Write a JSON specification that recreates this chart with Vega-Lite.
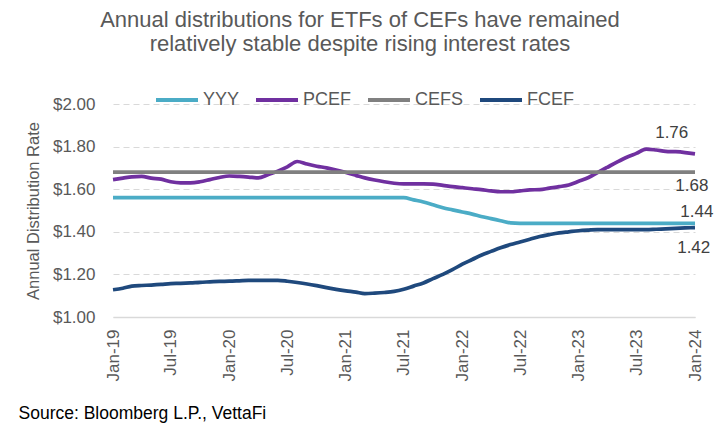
{
  "$schema": "https://vega.github.io/schema/vega-lite/v6.json",
  "description": "Annual distributions for ETFs of CEFs",
  "width": 582,
  "height": 213,
  "autosize": {"type": "none"},
  "padding": {"left": 113, "top": 104, "right": 25, "bottom": 121},
  "title": {
    "text": ["Annual distributions for ETFs of CEFs have remained", "relatively stable despite rising interest rates"],
    "anchor": "middle",
    "dx": -44,
    "offset": 21,
    "fontSize": 22,
    "fontWeight": "normal",
    "lineHeight": 24,
    "color": "#595959"
  },
  "config": {
    "font": "Liberation Sans",
    "view": {"stroke": null}
  },
  "layer": [
    {
      "data": {
        "format": {"parse": {"d": "date:'%Y-%m'"}},
        "values": [
          {"d": "2019-01", "YYY": 1.56, "PCEF": 1.645, "CEFS": 1.68, "FCEF": 1.128},
          {"d": "2019-02", "YYY": 1.56, "PCEF": 1.652, "CEFS": 1.68, "FCEF": 1.135},
          {"d": "2019-03", "YYY": 1.56, "PCEF": 1.658, "CEFS": 1.68, "FCEF": 1.145},
          {"d": "2019-04", "YYY": 1.56, "PCEF": 1.66, "CEFS": 1.68, "FCEF": 1.148},
          {"d": "2019-05", "YYY": 1.56, "PCEF": 1.652, "CEFS": 1.68, "FCEF": 1.15},
          {"d": "2019-06", "YYY": 1.56, "PCEF": 1.647, "CEFS": 1.68, "FCEF": 1.153},
          {"d": "2019-07", "YYY": 1.56, "PCEF": 1.635, "CEFS": 1.68, "FCEF": 1.157},
          {"d": "2019-08", "YYY": 1.56, "PCEF": 1.63, "CEFS": 1.68, "FCEF": 1.158},
          {"d": "2019-09", "YYY": 1.56, "PCEF": 1.63, "CEFS": 1.68, "FCEF": 1.16},
          {"d": "2019-10", "YYY": 1.56, "PCEF": 1.635, "CEFS": 1.68, "FCEF": 1.163},
          {"d": "2019-11", "YYY": 1.56, "PCEF": 1.645, "CEFS": 1.68, "FCEF": 1.165},
          {"d": "2019-12", "YYY": 1.56, "PCEF": 1.655, "CEFS": 1.68, "FCEF": 1.167},
          {"d": "2020-01", "YYY": 1.56, "PCEF": 1.662, "CEFS": 1.68, "FCEF": 1.168},
          {"d": "2020-02", "YYY": 1.56, "PCEF": 1.66, "CEFS": 1.68, "FCEF": 1.17},
          {"d": "2020-03", "YYY": 1.56, "PCEF": 1.657, "CEFS": 1.68, "FCEF": 1.172},
          {"d": "2020-04", "YYY": 1.56, "PCEF": 1.653, "CEFS": 1.68, "FCEF": 1.172},
          {"d": "2020-05", "YYY": 1.56, "PCEF": 1.668, "CEFS": 1.68, "FCEF": 1.172},
          {"d": "2020-06", "YYY": 1.56, "PCEF": 1.685, "CEFS": 1.68, "FCEF": 1.172},
          {"d": "2020-07", "YYY": 1.56, "PCEF": 1.705, "CEFS": 1.68, "FCEF": 1.168},
          {"d": "2020-08", "YYY": 1.56, "PCEF": 1.73, "CEFS": 1.68, "FCEF": 1.162},
          {"d": "2020-09", "YYY": 1.56, "PCEF": 1.718, "CEFS": 1.68, "FCEF": 1.155},
          {"d": "2020-10", "YYY": 1.56, "PCEF": 1.708, "CEFS": 1.68, "FCEF": 1.147},
          {"d": "2020-11", "YYY": 1.56, "PCEF": 1.7, "CEFS": 1.68, "FCEF": 1.138},
          {"d": "2020-12", "YYY": 1.56, "PCEF": 1.69, "CEFS": 1.68, "FCEF": 1.13},
          {"d": "2021-01", "YYY": 1.56, "PCEF": 1.678, "CEFS": 1.68, "FCEF": 1.123},
          {"d": "2021-02", "YYY": 1.56, "PCEF": 1.665, "CEFS": 1.68, "FCEF": 1.117},
          {"d": "2021-03", "YYY": 1.56, "PCEF": 1.653, "CEFS": 1.68, "FCEF": 1.11},
          {"d": "2021-04", "YYY": 1.56, "PCEF": 1.643, "CEFS": 1.68, "FCEF": 1.112},
          {"d": "2021-05", "YYY": 1.56, "PCEF": 1.635, "CEFS": 1.68, "FCEF": 1.115},
          {"d": "2021-06", "YYY": 1.56, "PCEF": 1.628, "CEFS": 1.68, "FCEF": 1.12},
          {"d": "2021-07", "YYY": 1.56, "PCEF": 1.625, "CEFS": 1.68, "FCEF": 1.13},
          {"d": "2021-08", "YYY": 1.55, "PCEF": 1.625, "CEFS": 1.68, "FCEF": 1.145},
          {"d": "2021-09", "YYY": 1.54, "PCEF": 1.625, "CEFS": 1.68, "FCEF": 1.16},
          {"d": "2021-10", "YYY": 1.527, "PCEF": 1.624, "CEFS": 1.68, "FCEF": 1.18},
          {"d": "2021-11", "YYY": 1.513, "PCEF": 1.618, "CEFS": 1.68, "FCEF": 1.2},
          {"d": "2021-12", "YYY": 1.503, "PCEF": 1.612, "CEFS": 1.68, "FCEF": 1.222},
          {"d": "2022-01", "YYY": 1.493, "PCEF": 1.607, "CEFS": 1.68, "FCEF": 1.248},
          {"d": "2022-02", "YYY": 1.483, "PCEF": 1.602, "CEFS": 1.68, "FCEF": 1.27},
          {"d": "2022-03", "YYY": 1.472, "PCEF": 1.598, "CEFS": 1.68, "FCEF": 1.29},
          {"d": "2022-04", "YYY": 1.462, "PCEF": 1.592, "CEFS": 1.68, "FCEF": 1.308},
          {"d": "2022-05", "YYY": 1.452, "PCEF": 1.588, "CEFS": 1.68, "FCEF": 1.325},
          {"d": "2022-06", "YYY": 1.442, "PCEF": 1.588, "CEFS": 1.68, "FCEF": 1.34},
          {"d": "2022-07", "YYY": 1.44, "PCEF": 1.592, "CEFS": 1.68, "FCEF": 1.352},
          {"d": "2022-08", "YYY": 1.44, "PCEF": 1.597, "CEFS": 1.68, "FCEF": 1.365},
          {"d": "2022-09", "YYY": 1.44, "PCEF": 1.598, "CEFS": 1.68, "FCEF": 1.378},
          {"d": "2022-10", "YYY": 1.44, "PCEF": 1.605, "CEFS": 1.68, "FCEF": 1.387},
          {"d": "2022-11", "YYY": 1.44, "PCEF": 1.612, "CEFS": 1.68, "FCEF": 1.395},
          {"d": "2022-12", "YYY": 1.44, "PCEF": 1.62, "CEFS": 1.68, "FCEF": 1.4},
          {"d": "2023-01", "YYY": 1.44, "PCEF": 1.637, "CEFS": 1.68, "FCEF": 1.405},
          {"d": "2023-02", "YYY": 1.44, "PCEF": 1.655, "CEFS": 1.68, "FCEF": 1.408},
          {"d": "2023-03", "YYY": 1.44, "PCEF": 1.678, "CEFS": 1.68, "FCEF": 1.41},
          {"d": "2023-04", "YYY": 1.44, "PCEF": 1.703, "CEFS": 1.68, "FCEF": 1.41},
          {"d": "2023-05", "YYY": 1.44, "PCEF": 1.727, "CEFS": 1.68, "FCEF": 1.41},
          {"d": "2023-06", "YYY": 1.44, "PCEF": 1.75, "CEFS": 1.68, "FCEF": 1.41},
          {"d": "2023-07", "YYY": 1.44, "PCEF": 1.768, "CEFS": 1.68, "FCEF": 1.41},
          {"d": "2023-08", "YYY": 1.44, "PCEF": 1.788, "CEFS": 1.68, "FCEF": 1.41},
          {"d": "2023-09", "YYY": 1.44, "PCEF": 1.784, "CEFS": 1.68, "FCEF": 1.412},
          {"d": "2023-10", "YYY": 1.44, "PCEF": 1.778, "CEFS": 1.68, "FCEF": 1.414},
          {"d": "2023-11", "YYY": 1.44, "PCEF": 1.776, "CEFS": 1.68, "FCEF": 1.416},
          {"d": "2023-12", "YYY": 1.44, "PCEF": 1.772, "CEFS": 1.68, "FCEF": 1.418},
          {"d": "2024-01", "YYY": 1.44, "PCEF": 1.766, "CEFS": 1.68, "FCEF": 1.42}
        ]
      },
      "transform": [
        {"fold": ["YYY", "PCEF", "CEFS", "FCEF"], "as": ["series", "value"]}
      ],
      "mark": {"type": "line", "strokeWidth": 3.7, "interpolate": "monotone"},
      "encoding": {
        "x": {
          "field": "d",
          "type": "temporal",
          "scale": {"domain": [{"year": 2019, "month": 1, "date": 1}, {"year": 2024, "month": 1, "date": 1}]},
          "axis": {
            "format": "%b-%y",
            "tickCount": {"interval": "month", "step": 6},
            "labelAngle": -90,
            "labelAlign": "right",
            "labelBaseline": "middle",
            "labelPadding": 12,
            "labelFontSize": 17,
            "labelColor": "#595959",
            "labelFlush": false,
            "labelOverlap": false,
            "ticks": false,
            "grid": false,
            "domainColor": "#D9D9D9",
            "domainWidth": 1.5,
            "title": "Source: Bloomberg L.P., VettaFi",
            "titleX": -95,
            "titleY": 101,
            "titleAlign": "left",
            "titleBaseline": "alphabetic",
            "titleAnchor": null,
            "titleFontSize": 17.5,
            "titleFontWeight": "normal",
            "titleColor": "#000000"
          }
        },
        "y": {
          "field": "value",
          "type": "quantitative",
          "scale": {"domain": [1.0, 2.0], "nice": false, "zero": false},
          "axis": {
            "values": [1.0, 1.2, 1.4, 1.6, 1.8, 2.0],
            "format": "$.2f",
            "labelFontSize": 17,
            "labelColor": "#595959",
            "labelPadding": 18,
            "ticks": false,
            "domain": false,
            "gridColor": "#D9D9D9",
            "gridDash": [6, 4],
            "gridWidth": 1.2,
            "title": "Annual Distribution Rate",
            "titleFontSize": 16.5,
            "titleFontWeight": "normal",
            "titleColor": "#595959",
            "titlePadding": 11
          }
        },
        "color": {
          "field": "series",
          "type": "nominal",
          "scale": {
            "domain": ["YYY", "PCEF", "CEFS", "FCEF"],
            "range": ["#4BACC6", "#7030A0", "#808080", "#1F497D"]
          },
          "legend": {
            "title": null,
            "orient": "none",
            "direction": "horizontal",
            "legendX": 41,
            "legendY": -27,
            "symbolType": "stroke",
            "symbolSize": 1764,
            "symbolStrokeWidth": 4,
            "labelFontSize": 18,
            "labelColor": "#595959",
            "labelOffset": 3,
            "columnPadding": 8
          }
        }
      }
    },
    {
      "data": {
        "format": {"parse": {"d": "date:'%Y-%m-%d'"}},
        "values": [
          {"d": "2023-10-20", "value": 1.864, "label": "1.76"},
          {"d": "2023-12-22", "value": 1.615, "label": "1.68"},
          {"d": "2024-01-07", "value": 1.493, "label": "1.44"},
          {"d": "2023-12-28", "value": 1.324, "label": "1.42"}
        ]
      },
      "mark": {"type": "text", "fontSize": 17, "color": "#404040", "align": "center", "baseline": "middle"},
      "encoding": {
        "x": {"field": "d", "type": "temporal"},
        "y": {"field": "value", "type": "quantitative"},
        "text": {"field": "label"}
      }
    }
  ]
}
